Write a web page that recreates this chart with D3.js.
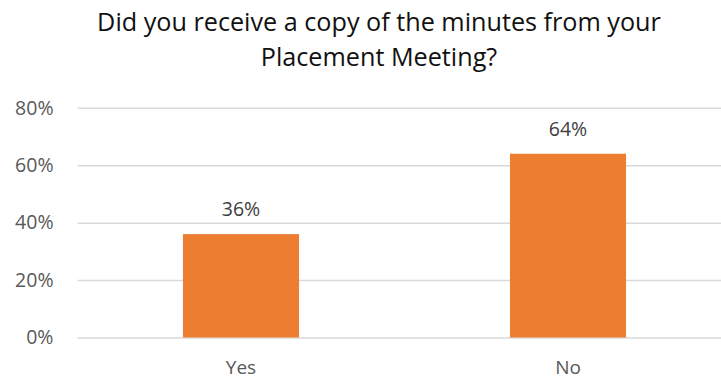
<!DOCTYPE html>
<html>
<head>
<meta charset="utf-8">
<script src="https://cdn.jsdelivr.net/npm/d3@7"></script>
<style>
  html, body { margin: 0; padding: 0; background: #fff; }
  svg { display: block; font-family: "Open Sans", "Noto Sans", sans-serif; }
</style>
</head>
<body>
<svg id="chart" width="721" height="380"></svg>
<script>
// Survey answers and their shares
const categories = ["Yes", "No"];
const shares = [0.36, 0.64];
const yTicks = [0, 0.2, 0.4, 0.6, 0.8];
const titleLines = ["Did you receive a copy of the minutes from your", "Placement Meeting?"];

const svg = d3.select("#chart");
const plot = { left: 77.5, right: 731.5, top: 107.8, bottom: 337.5 };

const x = d3.scaleBand()
  .domain(categories)
  .range([plot.left, plot.right])
  .paddingInner(0.645)
  .paddingOuter(0.3225);

const y = d3.scaleLinear()
  .domain([0, 0.8])
  .range([plot.bottom, plot.top]);

// Title
svg.append("g")
  .selectAll("text")
  .data(titleLines)
  .join("text")
  .attr("x", 379)
  .attr("y", (d, i) => 31 + i * 34.5)
  .attr("text-anchor", "middle")
  .attr("font-size", 25.2)
  .attr("fill", "#111")
  .text(d => d);

// Value axis with gridlines
const yAxis = d3.axisLeft(y)
  .tickValues(yTicks)
  .tickFormat(d3.format(".0%"))
  .tickSize(-(plot.right - plot.left))
  .tickPadding(24);

const yg = svg.append("g")
  .attr("transform", `translate(${plot.left},0)`)
  .call(yAxis);
yg.select(".domain").remove();
yg.selectAll(".tick line")
  .attr("stroke", "#d9d9d9")
  .attr("stroke-width", 1.5);
yg.selectAll(".tick text")
  .attr("font-size", 19.5)
  .attr("fill", "#595959")
  .attr("font-family", "\"Open Sans\", sans-serif");

// Bars
svg.append("g")
  .selectAll("rect")
  .data(categories)
  .join("rect")
  .attr("x", d => x(d))
  .attr("width", x.bandwidth())
  .attr("y", (d, i) => y(shares[i]))
  .attr("height", (d, i) => y(0) - y(shares[i]))
  .attr("fill", "#ed7d31");

// Value labels
svg.append("g")
  .selectAll("text")
  .data(categories)
  .join("text")
  .attr("x", d => x(d) + x.bandwidth() / 2)
  .attr("y", (d, i) => y(shares[i]) - 18)
  .attr("text-anchor", "middle")
  .attr("font-size", 19.5)
  .attr("fill", "#404040")
  .text((d, i) => d3.format(".0%")(shares[i]));

// Category labels
svg.append("g")
  .selectAll("text")
  .data(categories)
  .join("text")
  .attr("x", d => x(d) + x.bandwidth() / 2)
  .attr("y", 373.5)
  .attr("text-anchor", "middle")
  .attr("font-size", 19)
  .attr("fill", "#595959")
  .text(d => d);
</script>
</body>
</html>
